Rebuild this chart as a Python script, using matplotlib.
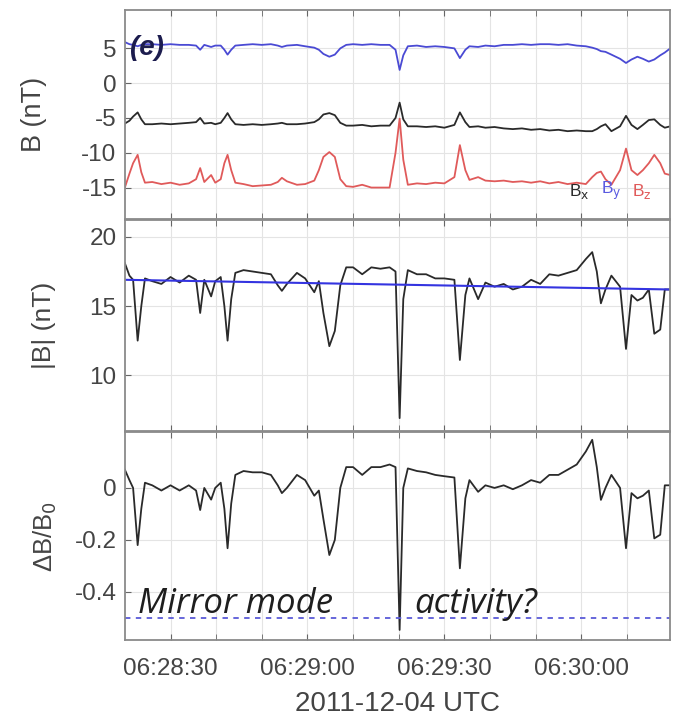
import numpy as np
import matplotlib
matplotlib.use("Agg")
import matplotlib.pyplot as plt
from matplotlib.ticker import FixedLocator

plt.rcParams['font.family'] = ['Liberation Sans', 'DejaVu Sans']
plt.rcParams['axes.unicode_minus'] = False

# seconds after 06:28:20 UTC
t = [0, 1, 1.8, 2.8, 3.6, 4.4, 6, 8, 10, 12,
     14, 15.6, 16.5, 17.4, 18.9, 19.8, 21.0, 21.8, 22.5, 23.3,
     24.2, 26, 28, 30, 32, 33.5, 34.4, 35.5, 37.7, 39.5,
     41.5, 42.5, 43.5, 44.8, 46.0, 47.2, 48.5, 50, 52, 54,
     56, 58, 59.3, 60.2, 61.0, 62, 64, 66, 68, 70,
     72.2, 73.4, 74.6, 75.5, 77.4, 79, 81, 83, 85, 87,
     89, 91, 93, 95, 97, 99, 101, 102.4, 103.4, 104.3,
     105.3, 106.6, 108.5, 109.8, 111, 112.3, 113.5, 114.8, 116, 117.3,
     118.3, 119.5]

bx = [-5.8, -5.4, -4.8, -4.2, -5.2, -5.9, -5.9, -5.8, -5.9, -5.8,
      -5.7, -5.6, -5.0, -5.8, -5.7, -5.9, -5.7, -5.0, -4.3, -5.2,
      -5.9, -6.0, -5.9, -6.0, -5.9, -5.8, -5.7, -5.9, -5.9, -5.8,
      -5.6, -5.2, -4.5, -4.3, -4.6, -5.7, -6.1, -6.1, -6.0, -6.2,
      -6.1, -6.1, -5.0, -2.8, -5.2, -6.2, -6.2, -6.3, -6.2, -6.4,
      -6.0, -4.2, -5.6, -6.3, -6.2, -6.4, -6.3, -6.5, -6.6, -6.5,
      -6.7, -6.6, -6.8, -6.7, -6.9, -6.8, -6.9, -6.9, -6.6, -6.2,
      -5.9, -6.9, -6.2, -4.7, -6.0, -6.6, -6.0, -5.3, -5.2, -6.0,
      -6.4, -6.2]

by = [5.9, 5.6, 5.5, 5.3, 5.5, 5.6, 5.6, 5.5, 5.6, 5.5,
      5.5, 5.4, 4.8, 5.5, 5.2, 5.4, 5.4, 4.8, 4.1, 4.8,
      5.4, 5.5, 5.6, 5.5, 5.6, 5.4, 5.2, 5.4, 5.5, 5.3,
      5.1, 4.8, 4.2, 3.8, 4.1, 5.0, 5.5, 5.6, 5.5, 5.6,
      5.5, 5.5, 4.8, 1.9, 4.0, 5.3, 5.4, 5.2, 5.3, 5.2,
      5.0, 3.6, 4.8, 5.3, 5.2, 5.4, 5.3, 5.5, 5.5, 5.6,
      5.5, 5.6, 5.6, 5.5, 5.6, 5.4, 5.3, 5.1, 4.9, 4.6,
      4.5, 4.1, 3.5, 2.9, 3.4, 3.8, 3.5, 3.1, 3.4, 4.0,
      4.4, 5.0]

bz = [-15.0, -13.0, -11.5, -10.3, -12.8, -14.3, -14.2, -14.5, -14.3, -14.6,
      -14.4, -13.8, -12.2, -14.2, -13.2, -14.3, -13.8, -11.5, -10.3, -12.5,
      -14.3, -14.5, -14.8, -14.7, -14.6, -14.2, -13.6, -14.1, -14.6, -14.5,
      -14.0, -12.5, -10.6, -9.9, -10.6, -13.8, -14.8, -14.9, -14.6, -15.0,
      -15.0, -15.0, -10.0, -5.1, -11.0, -14.6, -14.4, -14.5, -14.3, -14.4,
      -13.5, -8.9, -12.5, -13.9, -13.5, -14.0, -14.1, -14.0, -14.2, -14.1,
      -14.3, -14.1, -14.4, -14.2, -14.5, -14.3, -14.5, -13.5, -12.9, -12.7,
      -13.8, -14.6, -12.5, -9.4, -12.5, -13.2, -12.5, -11.5, -10.3, -11.5,
      -13.0, -13.2]

bmag = [18.1, 17.2, 16.9, 12.5, 15.0, 17.0, 16.8, 16.6, 17.1, 16.7,
        17.2, 16.9, 14.5, 16.9, 15.7, 16.8, 17.1, 15.0, 12.5, 15.5,
        17.4, 17.6, 17.5, 17.4, 17.3, 16.5, 16.1, 16.6, 17.4, 17.0,
        16.0, 16.8, 14.5, 12.1, 13.2, 16.5, 17.8, 17.8, 17.3, 17.8,
        17.7, 17.8, 17.5, 6.9, 15.5, 17.6, 17.3, 17.3, 17.0, 17.0,
        16.9, 11.1, 15.8, 17.0, 15.5, 16.7, 16.4, 16.6, 16.2, 16.4,
        16.9, 16.6, 17.3, 17.2, 17.4, 17.6, 18.4, 18.9, 17.5, 15.2,
        16.2, 17.2, 16.4, 11.9, 15.8, 15.4, 15.6, 16.2, 13.0, 13.3,
        16.2, 16.2]

# background field B0 (straight fit)
t_b0 = [0, 119.5]
b0 = [16.9, 16.2]

db = [0.07, 0.03, 0.0, -0.22, -0.08, 0.02, 0.01, -0.01, 0.01, -0.01,
      0.01, -0.01, -0.085, 0.0, -0.045, 0.0, 0.02, -0.08, -0.232, -0.06,
      0.05, 0.065, 0.06, 0.06, 0.05, 0.01, -0.02, 0.0, 0.05, 0.03,
      -0.03, -0.01, -0.12, -0.258, -0.2, 0.0, 0.08, 0.08, 0.05, 0.08,
      0.08, 0.09, 0.08, -0.546, 0.0, 0.075, 0.065, 0.06, 0.05, 0.045,
      0.04, -0.309, -0.04, 0.03, -0.015, 0.01, 0.0, 0.01, -0.005, 0.01,
      0.03, 0.02, 0.05, 0.05, 0.07, 0.09, 0.14, 0.185, 0.08, -0.046,
      0.0, 0.05, 0.0, -0.232, -0.02, -0.04, -0.03, -0.01, -0.194, -0.18,
      0.01, 0.01]

threshold = -0.5

xtick_pos = [10, 40, 70, 100]
xtick_labels = ['06:28:30', '06:29:00', '06:29:30', '06:30:00']
grid_pos = list(range(10, 120, 10))

blue = '#4a4ad4'
red = '#e05a5a'
black = '#2a2a2a'
tick_col = '#444444'

fig = plt.figure(figsize=(6.75, 7.2), dpi=100)
left, width = 0.185, 0.808
ax1 = fig.add_axes([left, 0.696, width, 0.290])
ax2 = fig.add_axes([left, 0.402, width, 0.292])
ax3 = fig.add_axes([left, 0.111, width, 0.289])

for ax in (ax1, ax2, ax3):
    ax.set_xlim(0, 119.5)
    ax.xaxis.set_major_locator(FixedLocator(xtick_pos))
    ax.xaxis.set_minor_locator(FixedLocator(grid_pos))
    ax.grid(True, which='both', color='#e4e4e4', lw=0.8)
    ax.set_axisbelow(True)
    ax.tick_params(which='both', direction='in', top=True, right=False,
                   length=4, color='#666666', labelsize=17.5,
                   labelcolor=tick_col, pad=6)
    for s in ax.spines.values():
        s.set_color('#8a8a8a')
        s.set_linewidth(1.3)
    if ax is not ax3:
        ax.set_xticklabels([])

# panel 1
ax1.plot(t, by, color=blue, lw=1.3)
ax1.plot(t, bx, color=black, lw=1.3)
ax1.plot(t, bz, color=red, lw=1.3)
ax1.set_ylim(-19.5, 10.5)
ax1.set_yticks([-15, -10, -5, 0, 5])
ax1.set_ylabel('B (nT)', fontsize=19.5, color=tick_col)
ax1.yaxis.set_label_coords(-0.143, 0.5)
ax1.text(1.2, 5, '(e)', fontsize=20, fontweight='bold', style='italic',
         color='#1c1c4e', va='center', ha='left')
ax1.text(99.5, -15.5, r'B$_\mathrm{x}$', color=black, fontsize=12.5,
         va='center', ha='center')
ax1.text(106.5, -15.5, r'B$_\mathrm{y}$', color='#5a5ae0', fontsize=12.5,
         va='center', ha='center')
ax1.text(113.2, -15.5, r'B$_\mathrm{z}$', color=red, fontsize=12.5,
         va='center', ha='center')

# panel 2
ax2.plot(t, bmag, color=black, lw=1.3)
ax2.plot(t_b0, b0, color='#3434e0', lw=1.5)
ax2.set_ylim(6, 21.2)
ax2.set_yticks([10, 15, 20])
ax2.set_ylabel('|B| (nT)', fontsize=19, color=tick_col)
ax2.yaxis.set_label_coords(-0.127, 0.5)

# panel 3
ax3.plot(t, db, color=black, lw=1.3)
ax3.axhline(threshold, color='#5a5ad8', lw=1.3, ls=(0, (3, 3)))
ax3.set_ylim(-0.585, 0.215)
ax3.set_yticks([-0.4, -0.2, 0])
ax3.set_yticklabels(['-0.4', '-0.2', '0'])
ax3.set_ylabel('ΔB/B$_0$', fontsize=18.5, color=tick_col)
ax3.yaxis.set_label_coords(-0.12, 0.5)
ax3.set_xticklabels(xtick_labels)
ax3.tick_params(axis='x', pad=13)
ax3.set_xlabel('2011-12-04 UTC', fontsize=20, color=tick_col, labelpad=8)
ax3.text(2.8, -0.482, 'Mirror mode', fontsize=25, style='italic',
         family=['Open Sans', 'DejaVu Sans'], color='#1e1e1e', va='baseline')
ax3.text(63.5, -0.482, 'activity?', fontsize=25, style='italic',
         family=['Open Sans', 'DejaVu Sans'], color='#1e1e1e', va='baseline')

fig.savefig('out.png', dpi=100)
